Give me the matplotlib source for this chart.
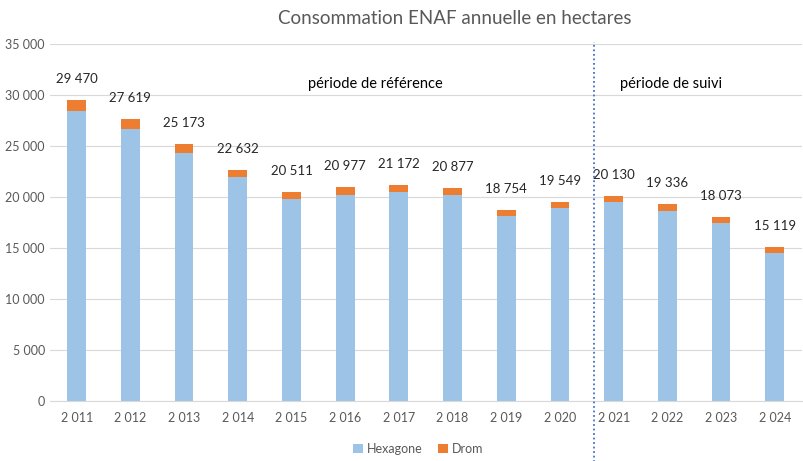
import matplotlib.pyplot as plt
import numpy as np

years = ["2 011", "2 012", "2 013", "2 014", "2 015", "2 016", "2 017",
         "2 018", "2 019", "2 020", "2 021", "2 022", "2 023", "2 024"]
hexagone = [28390, 26619, 24273, 21982, 19811, 20197, 20472,
            20177, 18154, 18949, 19530, 18636, 17473, 14519]
drom = [1080, 1000, 900, 650, 700, 780, 700, 700, 600, 600, 600, 700, 600, 600]
totals = [29470, 27619, 25173, 22632, 20511, 20977, 21172,
          20877, 18754, 19549, 20130, 19336, 18073, 15119]


def fr(v):
    return f"{v:,}".replace(",", " ")


plt.rcParams["font.family"] = ["Lato", "DejaVu Sans"]
grey = "#595959"

fig = plt.figure(figsize=(8.04, 4.61), dpi=100)
ax = fig.add_axes([0.062, 0.13, 0.935, 0.775])

x = np.arange(len(years))
w = 0.35
ax.bar(x, hexagone, w, color="#9dc3e6", label="Hexagone", zorder=2)
ax.bar(x, drom, w, bottom=hexagone, color="#ed7d31", label="Drom", zorder=2)

for xi, t in zip(x, totals):
    ax.annotate(fr(t), (xi, t), xytext=(0, 15), textcoords="offset points",
                ha="center", va="center", fontsize=9.5, color="#262626")

ax.set_xlim(-0.5, len(years) - 0.5)
ax.set_ylim(0, 35000)
ax.set_yticks(np.arange(0, 35001, 5000))
ax.set_yticklabels([fr(v) for v in range(0, 35001, 5000)])
ax.set_xticks(x)
ax.set_xticklabels(years)
ax.tick_params(axis="both", length=0, labelsize=9, colors=grey)
ax.tick_params(axis="x", pad=8)
ax.grid(axis="y", color="#d9d9d9", lw=0.8, zorder=0)
for s in ["top", "right", "left"]:
    ax.spines[s].set_visible(False)
ax.spines["bottom"].set_color("#d9d9d9")

ax.axvline(9.63, ymin=-0.17, ymax=1.005, color="#4472c4", ls=(0, (1, 1.5)),
           lw=1.3, clip_on=False, zorder=3)

ax.text(5.57, 31080, "période de référence", ha="center", va="center",
        fontsize=10.5, color="black")
ax.text(11.07, 31080, "période de suivi", ha="center", va="center",
        fontsize=10.5, color="black")

fig.text(0.566, 0.96, "Consommation ENAF annuelle en hectares", ha="center",
         va="center", fontsize=13.5, color=grey)

ax.legend(loc="upper center", bbox_to_anchor=(0.49, -0.085), ncol=2,
          frameon=False, fontsize=9, handlelength=0.8, handleheight=0.8,
          columnspacing=1.2, handletextpad=0.3, labelcolor=grey)

fig.savefig("out.png", dpi=100)
